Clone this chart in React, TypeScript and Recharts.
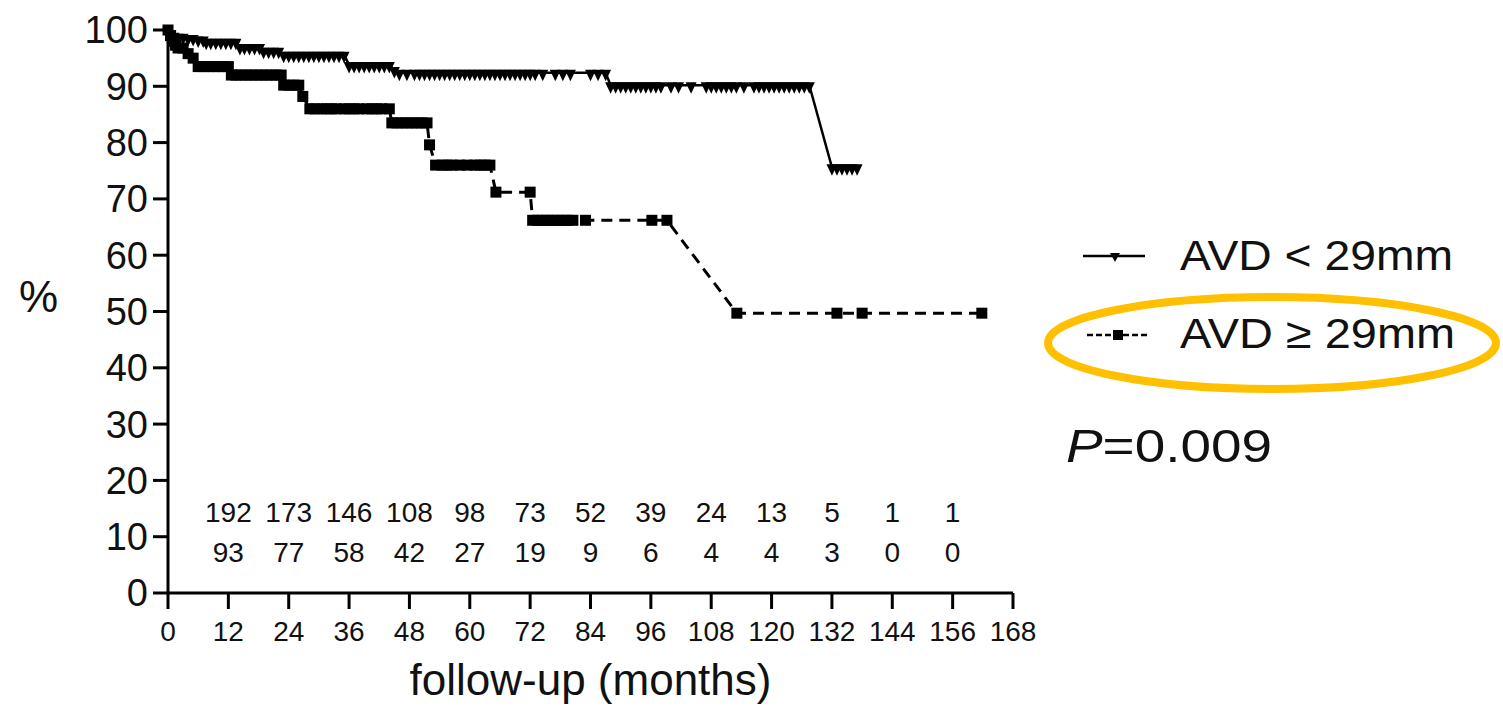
import React from 'react';
import { ComposedChart, Line, Scatter, XAxis, YAxis } from 'recharts';

const monthTicks = [0, 12, 24, 36, 48, 60, 72, 84, 96, 108, 120, 132, 144, 156, 168];
const percentTicks = [0, 10, 20, 30, 40, 50, 60, 70, 80, 90, 100];

// numbers at risk, under the curves
const riskMonths = [12, 24, 36, 48, 60, 72, 84, 96, 108, 120, 132, 144, 156];
const riskLow = [192, 173, 146, 108, 98, 73, 52, 39, 24, 13, 5, 1, 1];
const riskHigh = [93, 77, 58, 42, 27, 19, 9, 6, 4, 4, 3, 0, 0];

// AVD < 29mm : [month, % survival]
const lowAvd: [number, number][] = [
  [0, 100], [0.6, 99.4], [1.2, 99.0], [2, 98.8], [3, 98.8], [4, 98.6], [5, 98.6], [6, 98.3], [7, 98.3],
  [7.6, 97.9], [8.5, 97.9], [9.5, 97.9], [10.5, 97.9], [11.5, 97.9], [12.5, 97.9], [13.5, 97.9],
  [14.3, 97.0], [15.2, 97.0], [16.2, 97.0], [17.2, 97.0], [18.2, 97.0],
  [19, 96.3], [20, 96.3], [21, 96.3], [22, 96.3],
  [23, 95.6], [24, 95.6], [25, 95.6], [26, 95.6], [27, 95.6], [28, 95.6], [29, 95.6], [30, 95.6],
  [31, 95.6], [32, 95.6], [33, 95.6], [34, 95.6], [35, 95.6],
  [36, 93.8], [37, 93.8], [38, 93.8], [39, 93.8], [40, 93.8], [41, 93.8], [42, 93.8], [43, 93.8], [44, 93.8],
  [45, 92.9], [46, 92.4], [47.5, 92.4], [49, 92.4], [50, 92.4], [51, 92.4], [52, 92.4], [53, 92.4],
  [54, 92.4], [55, 92.4], [56, 92.4], [57, 92.4], [58, 92.4], [59, 92.4], [60, 92.4], [61, 92.4],
  [62, 92.4], [63, 92.4], [64, 92.4], [65, 92.4], [66, 92.4], [67, 92.4], [68, 92.4], [69, 92.4],
  [70, 92.4], [71, 92.4], [72, 92.4], [73, 92.4], [74.5, 92.4], [77, 92.4], [78.5, 92.4], [80, 92.4],
  [84, 92.4], [85.5, 92.4], [87, 92.4],
  [88, 90.2], [89, 90.2], [90, 90.2], [91, 90.2], [92, 90.2], [93, 90.2], [94, 90.2], [95, 90.2],
  [96, 90.2], [97, 90.2], [98, 90.2], [100, 90.2], [101.5, 90.2], [104, 90.2], [107, 90.2], [108, 90.2],
  [109, 90.2], [110, 90.2], [111, 90.2], [112, 90.2], [113, 90.2], [114.5, 90.2], [116.5, 90.2],
  [117.5, 90.2], [118.5, 90.2], [119.5, 90.2], [120.5, 90.2], [121.5, 90.2], [122.5, 90.2],
  [123.5, 90.2], [124.5, 90.2], [125.5, 90.2], [126.5, 90.2], [127.5, 90.2],
  [132, 75.6], [133, 75.6], [134, 75.6], [135, 75.6], [136, 75.6], [137, 75.6],
];

// AVD >= 29mm : [month, % survival]
const highAvd: [number, number][] = [
  [0, 100], [0.5, 99], [1, 98], [1.5, 97.3], [2, 96.8], [3, 96.8], [4, 95.8], [5, 95],
  [6, 93.5], [7, 93.5], [8, 93.5], [9, 93.5], [10, 93.5], [11, 93.5], [12, 93.5],
  [12.6, 92], [13.5, 92], [14.5, 92], [15.5, 92], [16.5, 92], [17.5, 92], [18.5, 92], [19.5, 92],
  [20.5, 92], [21.5, 92], [22.5, 92],
  [23, 90.2], [24, 90.2], [25, 90.2], [26, 90.2], [26.8, 88.2],
  [28.2, 86], [29.2, 86], [30.5, 86], [31.5, 86], [32.5, 86], [33.5, 86], [35, 86], [36, 86],
  [37, 86], [38, 86], [39.5, 86], [40.5, 86], [41.5, 86], [42.5, 86], [44, 86],
  [44.5, 83.5], [45.5, 83.5], [46.5, 83.5], [47.5, 83.5], [48.5, 83.5], [49.5, 83.5], [50.5, 83.5], [51.5, 83.5],
  [52, 79.6], [53.2, 76], [54.5, 76], [55.5, 76], [56.5, 76], [58, 76], [59.5, 76], [61, 76],
  [62, 76], [63, 76], [64, 76],
  [65.2, 71.2], [72, 71.2],
  [72.5, 66.2], [73.5, 66.2], [74.5, 66.2], [75.5, 66.2], [76.5, 66.2], [77.5, 66.2], [78.5, 66.2],
  [79.5, 66.2], [80.5, 66.2], [83, 66.2], [96.2, 66.2], [99.2, 66.2],
  [113.1, 49.7], [133, 49.7], [138, 49.7], [161.8, 49.7],
];

const lowData = lowAvd.map(([t, s]) => ({ t, s }));
const highData = highAvd.map(([t, s]) => ({ t, s }));
const riskData = [
  ...riskMonths.map((t, i) => ({ t, s: 14.4, label: String(riskLow[i]) })),
  ...riskMonths.map((t, i) => ({ t, s: 7.3, label: String(riskHigh[i]) })),
];

const FONT = '"Liberation Sans", Arial, Helvetica, sans-serif';

const triangle = (props: any) => {
  const { cx, cy, index } = props;
  if (cx == null || cy == null) return <g key={`tri-${index}`} />;
  return <path key={`tri-${index}`} d={`M${cx - 5.5},${cy - 3}L${cx + 5.5},${cy - 3}L${cx},${cy + 8.5}Z`} fill="#000" />;
};

const square = (props: any) => {
  const { cx, cy, index } = props;
  if (cx == null || cy == null) return <g key={`sq-${index}`} />;
  return <rect key={`sq-${index}`} x={cx - 5.5} y={cy - 5.5} width={11} height={11} fill="#000" />;
};

const riskLabel = (props: any) => {
  const { cx, cy, payload } = props;
  return (
    <text x={cx} y={cy} dy="0.36em" textAnchor="middle" fontSize={28} fill="#111">
      {payload.label}
    </text>
  );
};

export default function App() {
  return (
    <div style={{ position: 'absolute', left: 0, top: 0, width: 1503, height: 709, overflow: 'hidden', background: '#fff', fontFamily: FONT }}>
      <ComposedChart width={1503} height={709} margin={{ top: 30, right: 490, left: 0, bottom: 0 }}>
        <XAxis
          dataKey="t"
          type="number"
          domain={[0, 168]}
          ticks={monthTicks}
          interval={0}
          height={116}
          tickSize={16}
          tickMargin={12}
          axisLine={{ stroke: '#000', strokeWidth: 3 }}
          tickLine={{ stroke: '#000', strokeWidth: 3 }}
          tick={{ fontSize: 28, fill: '#111' }}
          label={{ value: 'follow-up (months)', position: 'insideBottom', offset: 14, fontSize: 44, fill: '#111' }}
        />
        <YAxis
          dataKey="s"
          type="number"
          domain={[0, 100]}
          ticks={percentTicks}
          interval={0}
          width={168}
          tickSize={15}
          tickMargin={5}
          axisLine={{ stroke: '#000', strokeWidth: 3 }}
          tickLine={{ stroke: '#000', strokeWidth: 3 }}
          tick={{ fontSize: 38, fill: '#111' }}
        />
        <Line
          data={lowData}
          dataKey="s"
          type="linear"
          stroke="#000"
          strokeWidth={2.5}
          dot={triangle}
          activeDot={false}
          isAnimationActive={false}
        />
        <Line
          data={highData}
          dataKey="s"
          type="linear"
          stroke="#000"
          strokeWidth={3}
          strokeDasharray="11 7"
          dot={square}
          activeDot={false}
          isAnimationActive={false}
        />
        <Scatter data={riskData} dataKey="s" shape={riskLabel} isAnimationActive={false} />
      </ComposedChart>

      <svg width={1503} height={709} style={{ position: 'absolute', left: 0, top: 0, pointerEvents: 'none' }}>
        <text x={19} y={312} fontSize={44} fill="#111">%</text>

        <line x1={1083} y1={256} x2={1145} y2={256} stroke="#000" strokeWidth={2.5} />
        <path d="M1110,253L1120,253L1115,262Z" fill="#000" />
        <text x={1180} y={270} fontSize={43} fill="#111" textLength={273} lengthAdjust="spacingAndGlyphs">AVD {'<'} 29mm</text>

        <line x1={1087} y1={335} x2={1148} y2={335} stroke="#000" strokeWidth={2.5} strokeDasharray="6 3" />
        <rect x={1113} y={330} width={10} height={10} fill="#000" />
        <text x={1180} y={348} fontSize={43} fill="#111" textLength={275} lengthAdjust="spacingAndGlyphs">AVD ≥ 29mm</text>

        <ellipse cx={1272} cy={343} rx={224} ry={46} fill="none" stroke="#FFC000" strokeWidth={8} />

        <text x={1066} y={462} fontSize={47} fill="#111" textLength={206} lengthAdjust="spacingAndGlyphs">
          <tspan fontStyle="italic">P</tspan>=0.009
        </text>
      </svg>
    </div>
  );
}
